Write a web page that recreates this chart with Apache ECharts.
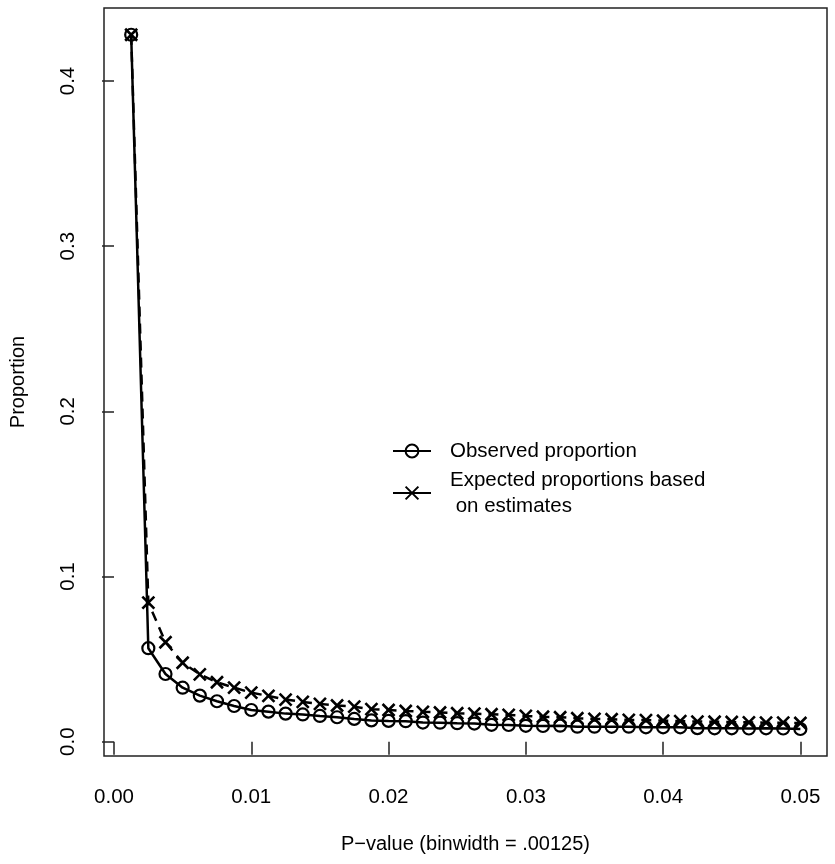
<!DOCTYPE html>
<html>
<head>
<meta charset="utf-8">
<script src="https://cdn.jsdelivr.net/npm/echarts@6/dist/echarts.min.js"></script>
<style>
html,body{margin:0;padding:0;background:#fff;}
#chart{width:835px;height:864px;}
</style>
</head>
<body>
<div id="chart"></div>
<script>
// Bin upper edges (binwidth = .00125)
const pValues = [0.00125,0.0025,0.00375,0.005,0.00625,0.0075,0.00875,0.01,0.01125,0.0125,
  0.01375,0.015,0.01625,0.0175,0.01875,0.02,0.02125,0.0225,0.02375,0.025,
  0.02625,0.0275,0.02875,0.03,0.03125,0.0325,0.03375,0.035,0.03625,0.0375,
  0.03875,0.04,0.04125,0.0425,0.04375,0.045,0.04625,0.0475,0.04875,0.05];
const observed = [0.428,0.0566,0.0410,0.0327,0.0279,0.0245,0.0216,0.0192,0.0182,0.0170,
  0.0165,0.0156,0.0148,0.0138,0.0129,0.0126,0.0124,0.0116,0.0115,0.0112,
  0.0110,0.0102,0.0101,0.0096,0.0095,0.0097,0.0091,0.0091,0.0090,0.0091,
  0.0087,0.0087,0.0087,0.0082,0.0081,0.0081,0.0080,0.0081,0.0080,0.0077];
const expected = [0.428,0.0842,0.0602,0.0478,0.0408,0.0360,0.0327,0.0297,0.0277,0.0255,
  0.0241,0.0229,0.0219,0.0212,0.0197,0.0192,0.0186,0.0181,0.0177,0.0172,
  0.0170,0.0166,0.0162,0.0156,0.0151,0.0148,0.0142,0.0138,0.0136,0.0132,
  0.0131,0.0127,0.0125,0.0122,0.0121,0.0119,0.0117,0.0115,0.0115,0.0113];
const xTicks = [0,0.01,0.02,0.03,0.04,0.05];
const xTickLabels = ['0.00','0.01','0.02','0.03','0.04','0.05'];
const yTicks = [0,0.1,0.2,0.3,0.4];
const yTickLabels = ['0.0','0.1','0.2','0.3','0.4'];
const nameObserved = 'Observed proportion';
const nameExpected = 'Expected proportions based\n on estimates';
const xTitle = 'P\u2212value (binwidth = .00125)';
const yTitle = 'Proportion';

const FONT = '"Liberation Sans", Arial, Helvetica, sans-serif';
const chart = echarts.init(document.getElementById('chart'), null, {renderer:'canvas'});
const fmt = (ticks, labels) => v => {
  for (let i = 0; i < ticks.length; i++) if (Math.abs(v - ticks[i]) < 1e-9) return labels[i];
  return '';
};
chart.setOption({
  animation: false,
  backgroundColor: '#fff',
  grid: {left:102, right:8, top:8, bottom:108, show:true, borderColor:'#222', borderWidth:1.5, backgroundColor:'transparent'},
  xAxis: {
    type:'value', min:-0.00073, max:0.05194,
    name: xTitle, nameLocation:'middle', nameGap:78,
    nameTextStyle:{fontFamily:FONT, fontSize:20, color:'#000'},
    axisLine:{show:false},
    splitLine:{show:false},
    axisTick:{show:true, customValues:xTicks, length:13, lineStyle:{color:'#222', width:1.5}},
    axisLabel:{customValues:xTicks, formatter:fmt(xTicks,xTickLabels), fontFamily:FONT, fontSize:20.5, color:'#000', margin:31}
  },
  yAxis: {
    type:'value', min:-0.00866, max:0.4442,
    name: yTitle, nameLocation:'middle', nameGap:76, nameRotate:90,
    nameTextStyle:{fontFamily:FONT, fontSize:20, color:'#000'},
    axisLine:{show:false},
    splitLine:{show:false},
    axisTick:{show:true, customValues:yTicks, length:12, lineStyle:{color:'#222', width:1.5}},
    axisLabel:{customValues:yTicks, formatter:fmt(yTicks,yTickLabels), rotate:90, fontFamily:FONT, fontSize:20.5, color:'#000', margin:25}
  },
  legend: {
    orient:'vertical', left:392, top:438, padding:0,
    itemWidth:38, itemHeight:16, itemGap:3,
    textStyle:{fontFamily:FONT, fontSize:20.5, lineHeight:26, color:'#000', padding:[0,0,0,14]},
    data:[
      {name:nameObserved},
      {name:nameExpected, lineStyle:{type:'solid'}}
    ]
  },
  series: [
    {
      name:nameObserved, type:'line',
      data: pValues.map((x,i)=>[x, observed[i]]),
      symbol:'circle', symbolSize:12, showSymbol:true,
      itemStyle:{color:'rgba(255,255,255,0)', borderColor:'#000', borderWidth:2.2},
      lineStyle:{color:'#000', width:2.5},
      silent:true, z:3
    },
    {
      name:nameExpected, type:'line',
      data: pValues.map((x,i)=>[x, expected[i]]),
      symbol:'path://M0,0L10,10M0,10L10,0', symbolSize:12, showSymbol:true,
      itemStyle:{color:'rgba(0,0,0,0)', borderColor:'#000', borderWidth:2.6},
      lineStyle:{color:'#000', width:2.5, type:[10,7]},
      silent:true, z:2
    }
  ]
});
</script>
</body>
</html>
